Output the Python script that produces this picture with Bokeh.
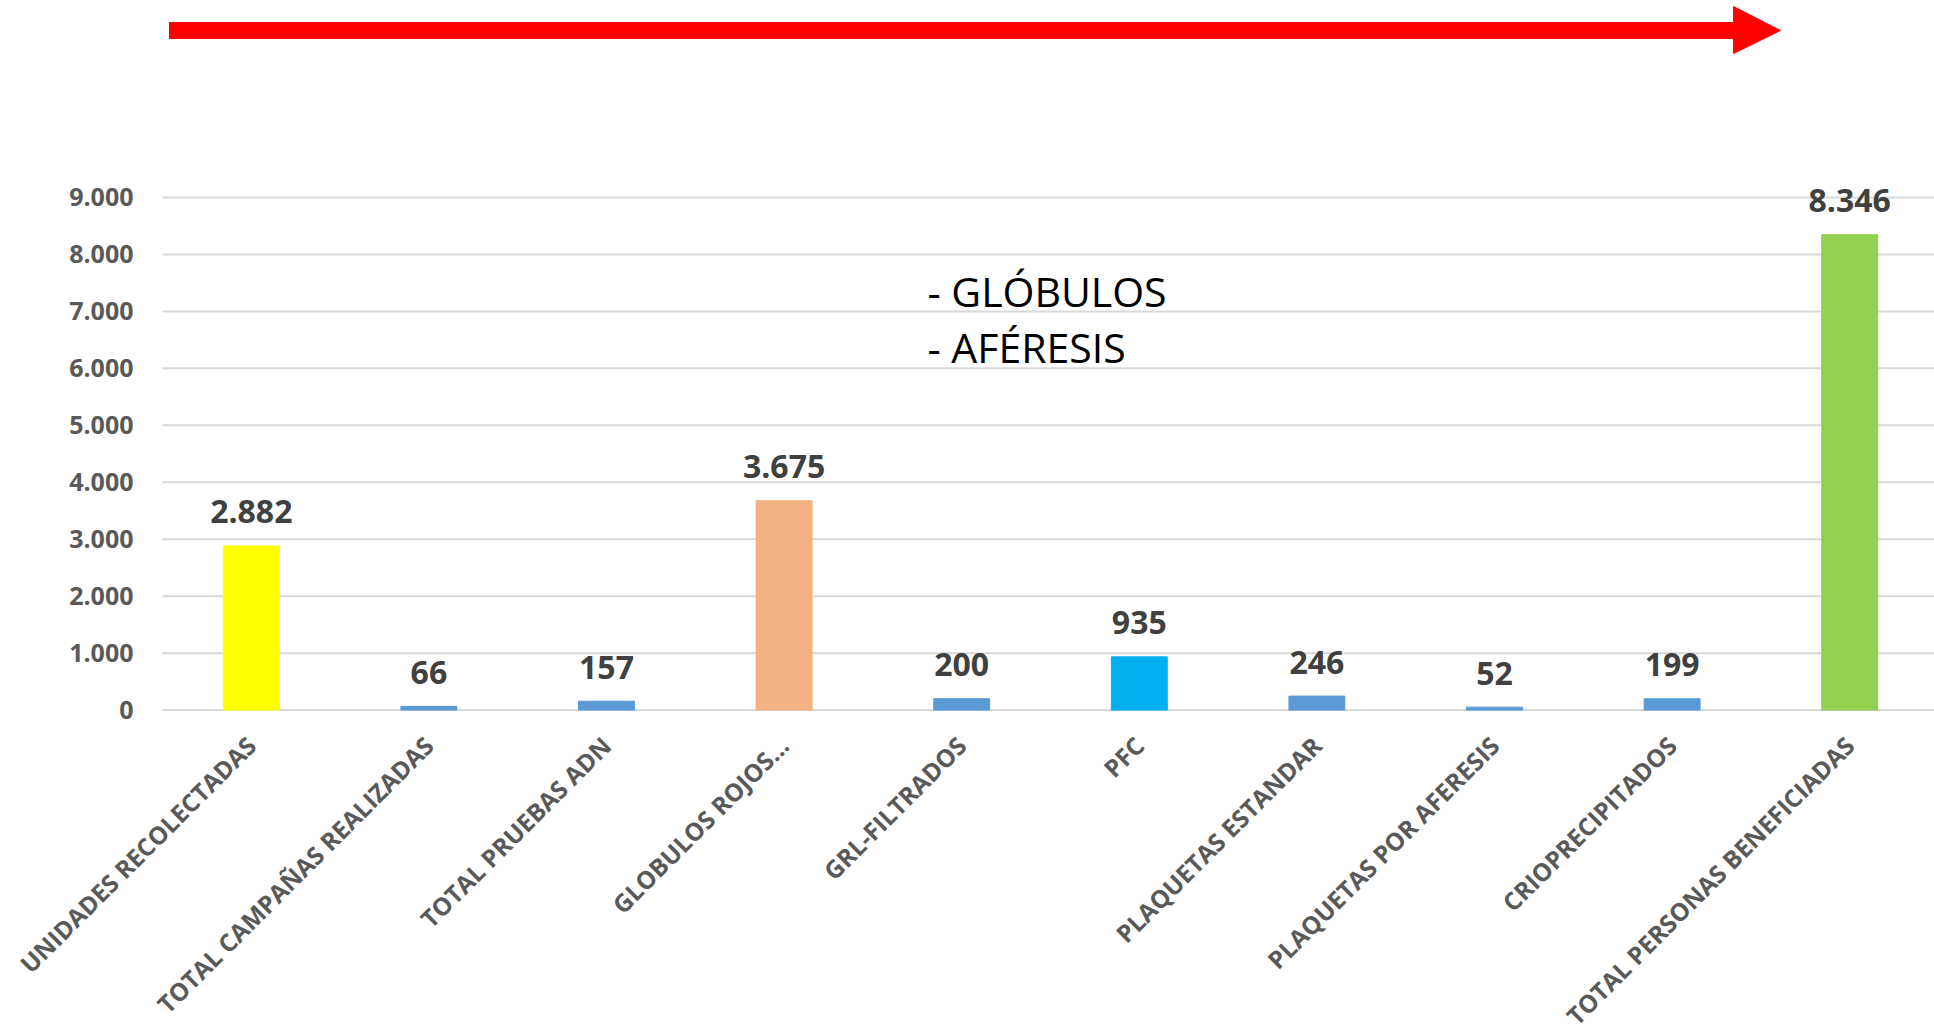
import math
from bokeh.plotting import figure
from bokeh.models import ColumnDataSource, FixedTicker, Range1d
from bokeh.core.properties import value
from bokeh.embed import file_html
from bokeh.resources import INLINE

# ---- data ----
categories = [
    "UNIDADES RECOLECTADAS",
    "TOTAL CAMPAÑAS REALIZADAS",
    "TOTAL PRUEBAS ADN",
    "GLOBULOS ROJOS...",
    "GRL-FILTRADOS",
    "PFC",
    "PLAQUETAS ESTANDAR",
    "PLAQUETAS POR AFERESIS",
    "CRIOPRECIPITADOS",
    "TOTAL PERSONAS BENEFICIADAS",
]
values = [2882, 66, 157, 3675, 200, 935, 246, 52, 199, 8346]
bar_colors = ["#FFFF00", "#5B9BD5", "#5B9BD5", "#F4B183", "#5B9BD5",
              "#00B0F0", "#5B9BD5", "#5B9BD5", "#5B9BD5", "#92D050"]
y_ticks = [0, 1000, 2000, 3000, 4000, 5000, 6000, 7000, 8000, 9000]
y_tick_labels = ["0", "1.000", "2.000", "3.000", "4.000", "5.000",
                 "6.000", "7.000", "8.000", "9.000"]
note_lines = ["- GLÓBULOS", "- AFÉRESIS"]

# ---- helpers: layout (pixel) -> data ----
PX_PER_CAT = 177.6
PX_PER_UNIT = 56.96 / 1000.0
PLOT_LEFT = 162.0
ZERO_Y = 709.6
W, H = 1934, 1028


def dx(px):
    return (px - PLOT_LEFT) / PX_PER_CAT - 0.5


def dy(py):
    return (ZERO_Y - py) / PX_PER_UNIT


x_pos = list(range(len(categories)))
value_labels = [f"{v:,}".replace(",", ".") for v in values]

src = ColumnDataSource(dict(x=x_pos, top=values, color=bar_colors, lab=value_labels))

# the frame covers the whole canvas; axes are pinned at the plot's origin so
# their long rotated labels are not clipped
p = figure(
    width=W, height=H,
    x_range=Range1d(dx(0), dx(W)),
    y_range=Range1d(dy(H), dy(0)),
    output_backend="svg", toolbar_location=None,
    min_border_left=0, min_border_right=0, min_border_top=0, min_border_bottom=0,
)
p.outline_line_color = None
p.background_fill_color = "white"
p.border_fill_color = "white"
p.grid.visible = False

# horizontal gridlines from the plot's left edge to the right edge
p.segment(x0=[-0.5] * len(y_ticks), x1=[dx(W)] * len(y_ticks),
          y0=y_ticks, y1=y_ticks, line_color="#D9D9D9", line_width=2)

for ax in (p.xaxis, p.yaxis):
    ax.axis_line_color = None
    ax.major_tick_line_color = None
    ax.minor_tick_line_color = None
    ax.major_tick_out = 0
    ax.major_tick_in = 0
    ax.minor_tick_out = 0
    ax.minor_tick_in = 0
    ax.major_label_text_font = "Open Sans"
    ax.major_label_text_font_style = "bold"
    ax.major_label_text_color = "#595959"

# y axis
p.yaxis.ticker = FixedTicker(ticks=y_ticks)
p.yaxis.major_label_overrides = {t: l for t, l in zip(y_ticks, y_tick_labels)}
p.yaxis.major_label_standoff = 29
p.yaxis.major_label_text_font_size = "25px"
p.yaxis.fixed_location = -0.5

# x axis
p.xaxis.ticker = FixedTicker(ticks=x_pos)
p.xaxis.major_label_overrides = {i: c for i, c in enumerate(categories)}
p.xaxis.major_label_orientation = math.pi / 4
p.xaxis.major_label_standoff = 31
p.xaxis.major_label_text_font_size = "24.5px"
p.xaxis.fixed_location = 0

# bars
p.vbar(x="x", top="top", width=0.315, bottom=0, color="color", source=src)

# value labels
p.text(x="x", y="top", text="lab", source=src, y_offset=-34,
       text_align="center", text_baseline="alphabetic",
       text_font=value("Open Sans"), text_font_style="bold",
       text_font_size="32px", text_color="#404040")

# note text
p.text(x=[dx(927), dx(927)], y=[dy(307), dy(363)], text=note_lines,
       y_offset=-17, text_align="left", text_baseline="alphabetic",
       text_font=value("Open Sans"), text_font_size="41px", text_color="black")

# red arrow (decoration)
arrow_x = [dx(169), dx(1733), dx(1733), dx(1780), dx(1733), dx(1733), dx(169)]
arrow_y = [dy(22), dy(22), dy(6), dy(30), dy(53), dy(38), dy(38)]
p.patch(arrow_x, arrow_y, fill_color="#FF0000", line_color="#FF0000", line_width=1)

open("out.html", "w").write(file_html(p, INLINE))
